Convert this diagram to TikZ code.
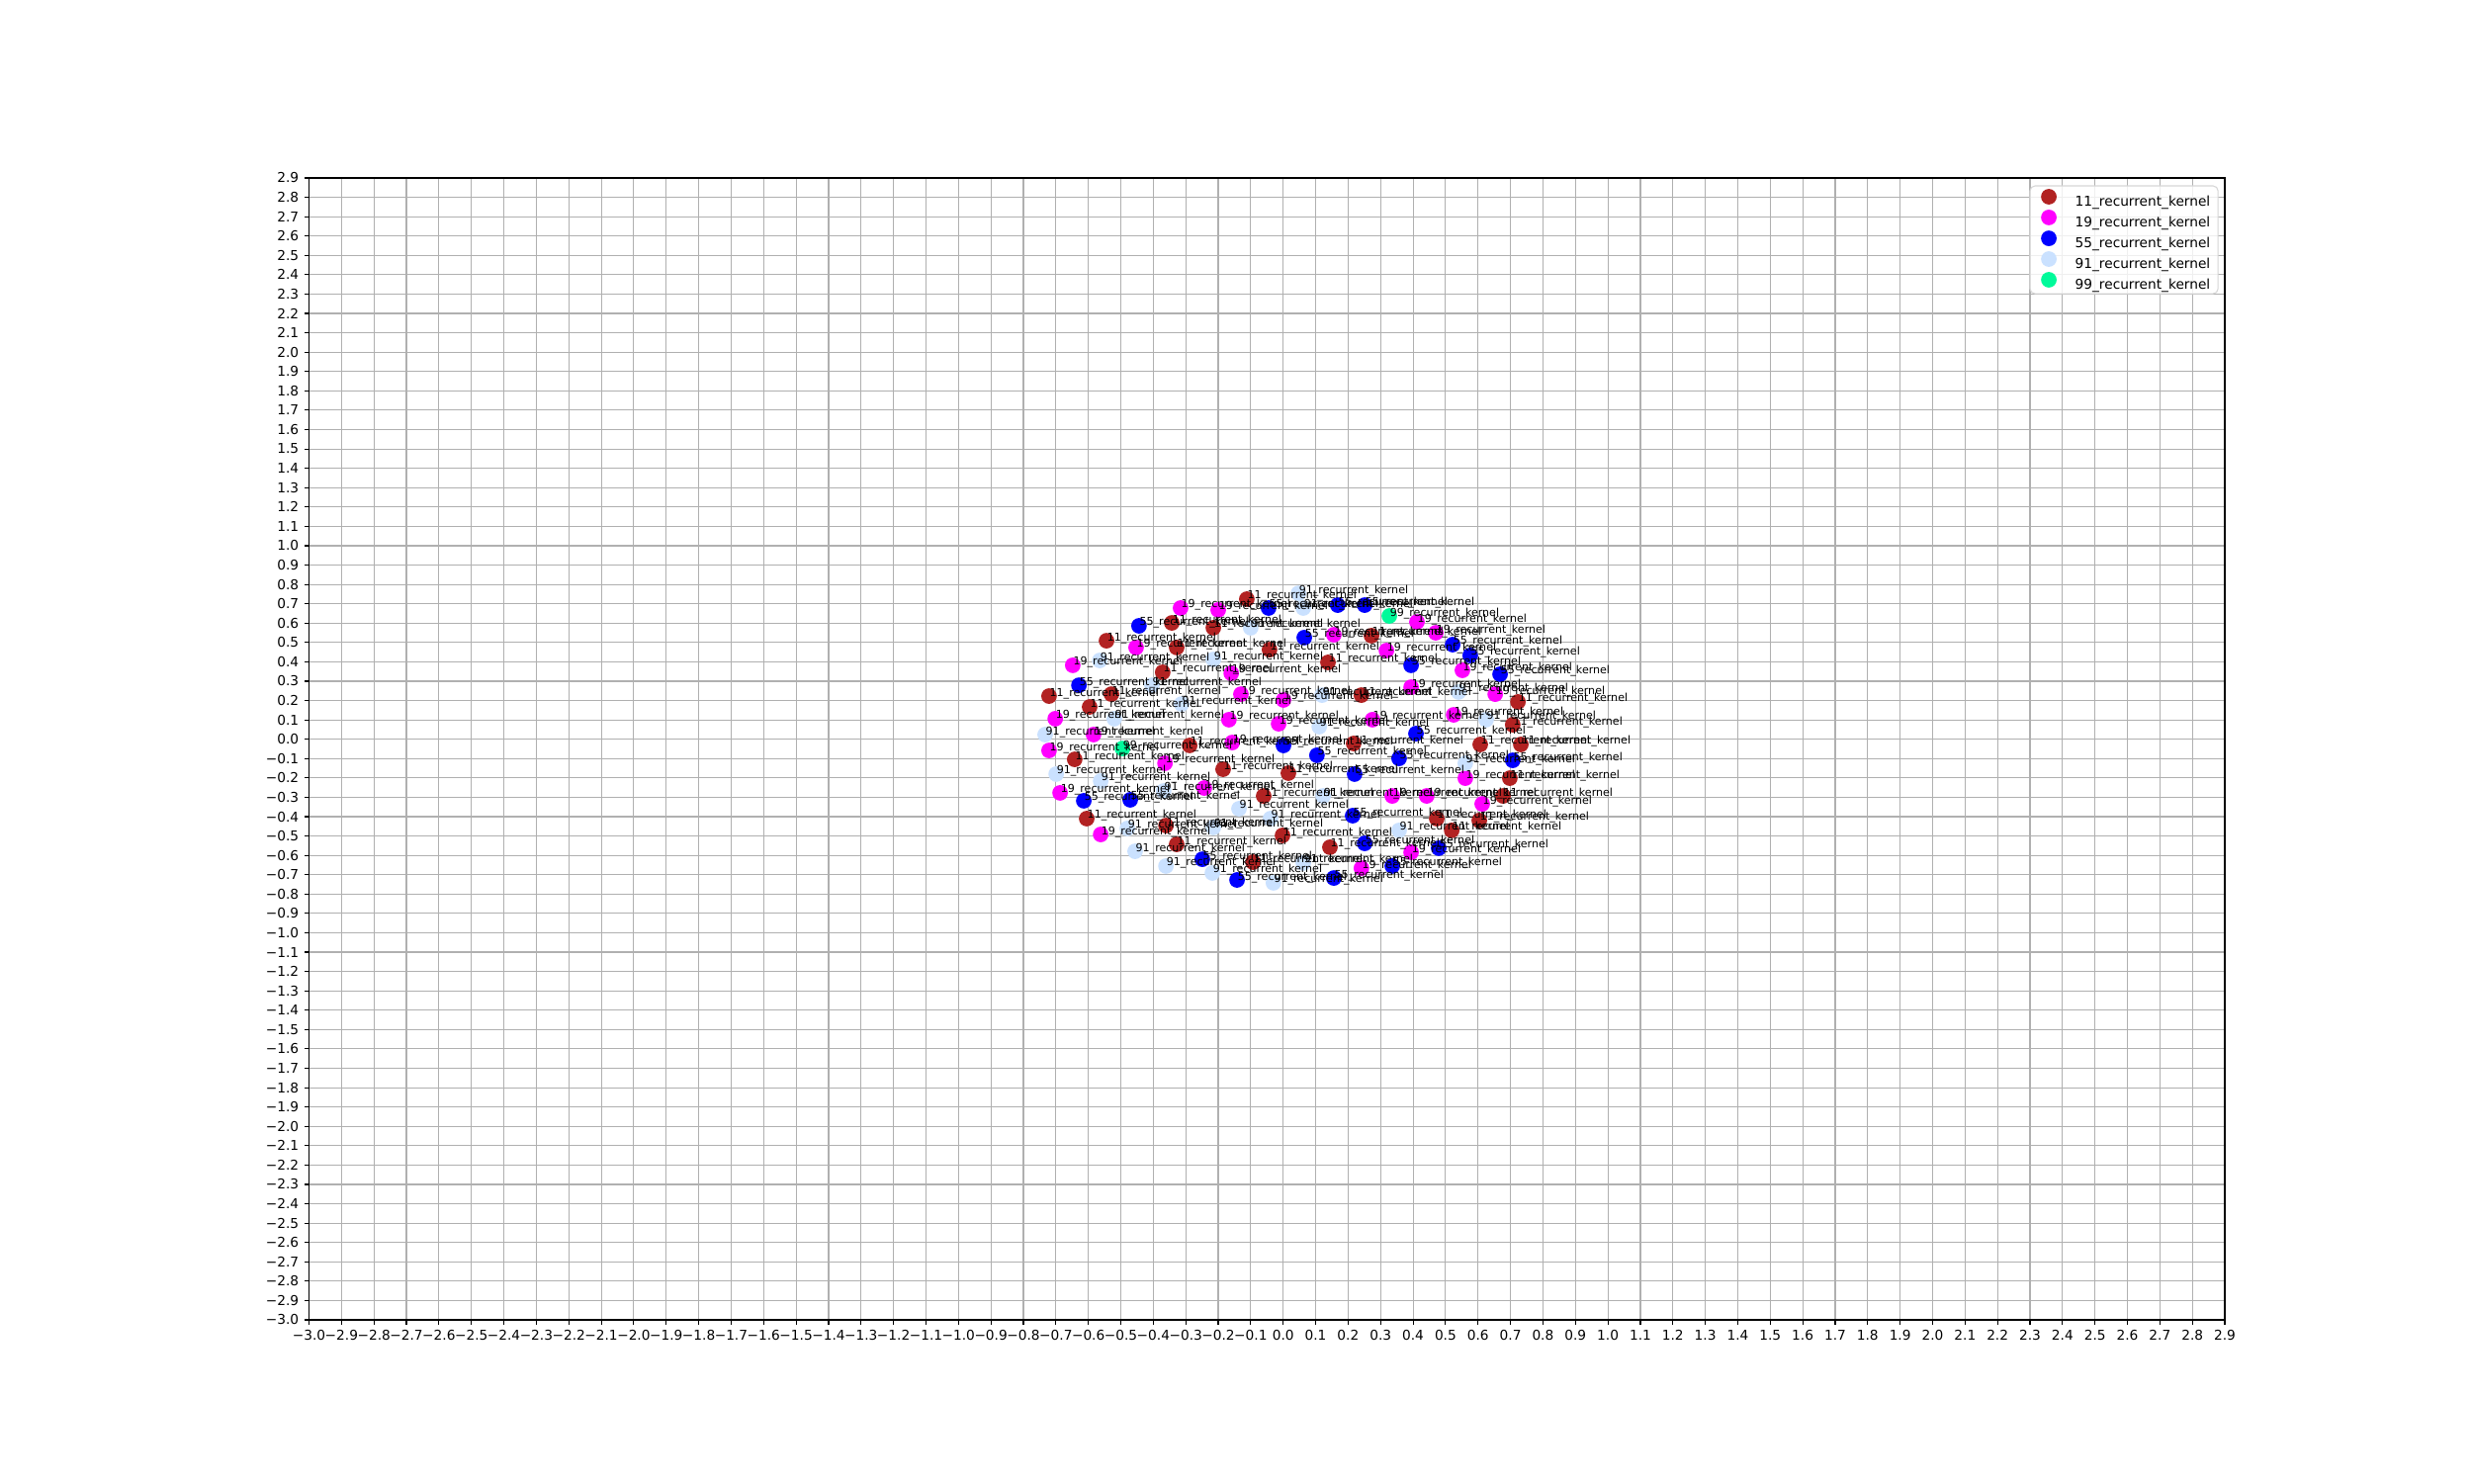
\documentclass[tikz,border=0pt]{standalone}
\usepackage{fontspec}
\setmainfont{DejaVu Sans}
\usetikzlibrary{calc}
\definecolor{k11}{HTML}{B22222}
\definecolor{k19}{HTML}{FF00FF}
\definecolor{k55}{HTML}{0000FF}
\definecolor{k91}{HTML}{CAE1FF}
\definecolor{k99}{HTML}{00FA9A}
\definecolor{gridgray}{HTML}{B0B0B0}
\definecolor{legendgray}{HTML}{D6D6D6}

% kernel/x/y
\def\kernelpts{%
11/-0.343/0.601, 11/-0.215/0.576, 11/-0.112/0.724, 11/-0.544/0.509, 11/-0.328/0.474,
11/-0.371/0.346, 11/-0.721/0.223, 11/-0.529/0.233, 11/-0.596/0.167, 11/-0.288/-0.032,
11/0.272/0.535, 11/-0.042/0.463, 11/0.138/0.397, 11/0.241/0.228, 11/0.217/-0.022,
11/0.723/0.193, 11/0.707/0.075, 11/0.607/-0.027, 11/0.732/-0.027, 11/-0.642/-0.104,
11/-0.185/-0.155, 11/-0.605/-0.410, 11/-0.361/-0.446, 11/-0.328/-0.543, 11/0.016/-0.175,
11/-0.060/-0.293, 11/0.473/-0.410, 11/0.519/-0.471, 11/-0.002/-0.497, 11/0.144/-0.558,
11/-0.093/-0.635, 11/0.698/-0.201, 11/0.677/-0.293, 11/0.604/-0.420,
19/-0.316/0.678, 19/-0.200/0.668, 19/-0.453/0.474, 19/-0.648/0.382, 19/-0.160/0.341,
19/-0.130/0.233, 19/-0.702/0.106, 19/-0.167/0.101, 19/-0.584/0.024, 19/-0.721/-0.058,
19/-0.157/-0.017, 19/0.412/0.606, 19/0.470/0.550, 19/0.156/0.540, 19/0.318/0.458,
19/0.394/0.269, 19/0.001/0.203, 19/0.275/0.101, 19/-0.014/0.080, 19/0.525/0.126,
19/0.552/0.356, 19/0.653/0.233, 19/-0.364/-0.124, 19/-0.687/-0.277, 19/-0.243/-0.252,
19/-0.562/-0.492, 19/0.336/-0.293, 19/0.442/-0.293, 19/0.394/-0.584, 19/0.241/-0.666,
19/0.561/-0.201, 19/0.613/-0.334,
55/-0.444/0.586, 55/-0.629/0.279, 55/-0.045/0.678, 55/0.168/0.693, 55/0.251/0.693,
55/0.522/0.489, 55/0.065/0.525, 55/0.394/0.382, 55/0.409/0.029, 55/0.001/-0.032,
55/0.104/-0.083, 55/0.576/0.433, 55/0.668/0.336, 55/-0.614/-0.318, 55/-0.471/-0.313,
55/-0.249/-0.620, 55/-0.142/-0.727, 55/0.357/-0.099, 55/0.220/-0.180, 55/0.214/-0.395,
55/0.251/-0.538, 55/0.479/-0.563, 55/0.336/-0.655, 55/0.156/-0.717, 55/0.707/-0.109,
91/-0.565/0.407, 91/-0.215/0.412, 91/-0.404/0.279, 91/-0.313/0.182, 91/-0.520/0.106,
91/-0.733/0.024, 91/0.047/0.754, 91/0.062/0.678, 91/-0.100/0.576, 91/0.120/0.228,
91/0.111/0.065, 91/0.540/0.244, 91/0.625/0.101, 91/-0.699/-0.180, 91/-0.562/-0.216,
91/-0.368/-0.267, 91/-0.136/-0.359, 91/-0.480/-0.461, 91/-0.215/-0.456, 91/-0.456/-0.579,
91/-0.361/-0.655, 91/-0.218/-0.691, 91/0.123/-0.293, 91/-0.039/-0.410, 91/0.357/-0.471,
91/0.062/-0.640, 91/-0.030/-0.742, 91/0.561/-0.124,
99/-0.495/-0.048, 99/0.327/0.637}

\begin{document}
\begin{tikzpicture}[x=3.2839cm, y=1.9576cm,
 dot/.style={circle, inner sep=0, minimum size=0.158cm},
 kname/.style={anchor=base west, inner sep=0, font=\fontsize{3.15}{3.8}\selectfont},
 ticklbl/.style={inner sep=0, font=\fontsize{3.9}{4.7}\selectfont}]
\useasboundingbox (-3.9517,-3.8430) rectangle (3.6612,3.8195);
\foreach \i in {-30,...,29} {
 \draw[gridgray, line width=0.32pt] (\i/10,-3) -- (\i/10,2.9);
 \draw[gridgray, line width=0.32pt] (-3,\i/10) -- (2.9,\i/10);
}
\draw[black, line width=0.32pt] (-3,-3) rectangle (2.9,2.9);
\foreach \i [count=\n] in {-30,...,29} {
 \pgfmathtruncatemacro\ip{abs(\i)/10}
 \pgfmathtruncatemacro\fp{abs(\i)-10*\ip}
 \draw[black, line width=0.32pt] (\i/10,-3) --++(0,-0.049cm) node[below, ticklbl, yshift=-0.049cm] (xt\n) {\ifnum\i<0 −\fi\ip.\fp};
 \draw[black, line width=0.32pt] (-3,\i/10) --++(-0.049cm,0) node[left, ticklbl, xshift=-0.049cm] (yt\n) {\ifnum\i<0 −\fi\ip.\fp};
}
% scatter
\foreach \k/\x/\y [count=\n] in \kernelpts {
 \node[dot, fill=k\k] (p\n) at (\x,\y) {};
}
\foreach \k/\x/\y [count=\n] in \kernelpts {
 \node[kname] (t\n) at (p\n.center) {\k\_recurrent\_kernel};
}
% legend
\draw[legendgray, fill=white, fill opacity=0.8, line width=0.3pt, rounded corners=0.05cm] (2.300,2.302) rectangle (2.879,2.859);
\foreach \k/\yy [count=\n] in {11/2.803, 19/2.696, 55/2.588, 91/2.481, 99/2.374} {
 \node[dot, fill=k\k] (lg\n) at (2.358,\yy) {};
 \node[anchor=mid west, ticklbl] (lt\n) at (2.437,\yy) {\k\_recurrent\_kernel};
}
\end{tikzpicture}
\end{document}
